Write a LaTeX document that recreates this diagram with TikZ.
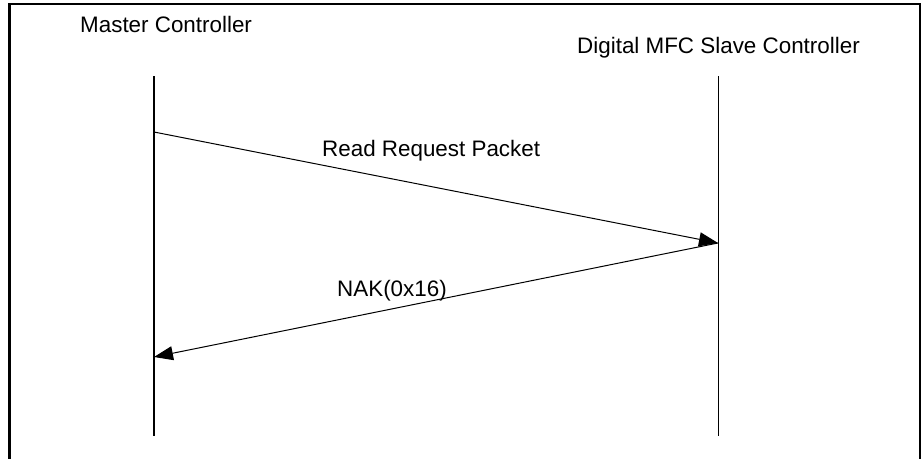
\documentclass[tikz,border=0pt]{standalone}
\usepackage{fontspec}
\setmainfont{Liberation Sans}
\usetikzlibrary{arrows.meta}
\begin{document}
\begin{tikzpicture}[x=1pt,y=-1pt,
  lbl/.style={anchor=base west,inner sep=0pt,font=\fontsize{22.4}{27}\selectfont},
  frame/.style={line width=2.2pt},
  lifeline/.style={line width=1.5pt},
  msg/.style={line width=1pt,-{Triangle[length=19pt,width=14pt]}}]
\useasboundingbox (0,0) rectangle (923,458);
\draw[frame] (9.5,470) -- (9.5,4) -- (920,4) -- (920,470);
\node[lbl] (mlabel) at (80,32) {Master Controller};
\node[lbl] (slabel) at (577,53) {Digital MFC Slave Controller};
\coordinate (mtop) at (154,76);
\coordinate (mbot) at (154,436);
\coordinate (stop) at (718.5,76);
\coordinate (sbot) at (718.5,436);
\draw[lifeline] (mtop) -- (mbot);
\draw[lifeline] (stop) -- (sbot);
\coordinate (m1) at (154,132);
\coordinate (s1) at (718,243);
\coordinate (m2) at (154,357);
\draw[msg] (m1) -- (s1);
\draw[msg] (s1) -- (m2);
\node[lbl] (req) at (322,156) {Read Request Packet};
\node[lbl] (nak) at (337,296) {NAK(0x16)};
\end{tikzpicture}
\end{document}
